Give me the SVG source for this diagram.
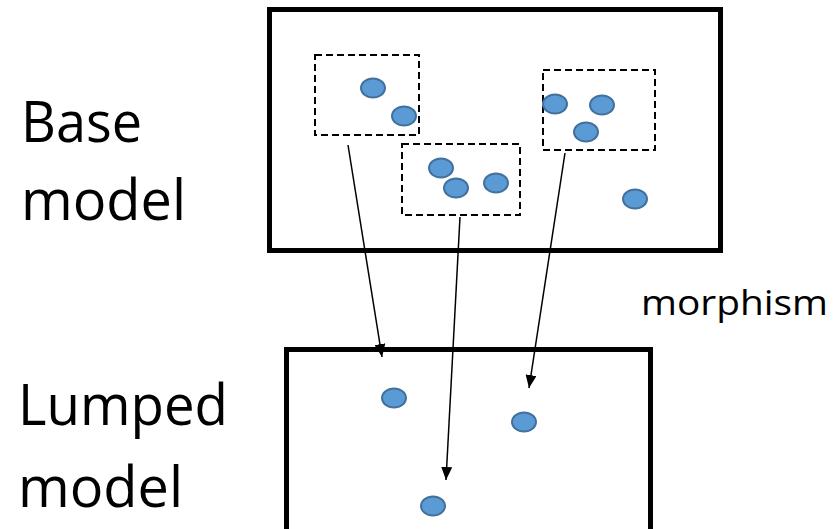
<svg xmlns="http://www.w3.org/2000/svg" width="834" height="529" viewBox="0 0 834 529">
<style>
.frame{fill:none;stroke:#000;stroke-width:5}
.group{fill:none;stroke:#000;stroke-width:2;stroke-dasharray:7 4}
.dot{fill:#5B9BD5;stroke:#41719C;stroke-width:2}
.lbl{font-family:"Open Sans","Liberation Sans",sans-serif;fill:#000}
.conn{stroke:#000;stroke-width:1.5;fill:none;marker-end:url(#ah)}
</style>
<defs>
<marker id="ah" viewBox="0 0 13 11" refX="13" refY="5.5" markerWidth="13" markerHeight="11" markerUnits="userSpaceOnUse" orient="auto">
<path d="M0,0 L13,5.5 L0,11 z" fill="#000"/>
</marker>
</defs>
<rect width="834" height="529" fill="#fff"/>
<g id="base-label">
<text class="lbl" x="21" y="142" font-size="56" textLength="121" lengthAdjust="spacingAndGlyphs">Base</text>
<text class="lbl" x="21" y="220" font-size="56" textLength="165" lengthAdjust="spacingAndGlyphs">model</text>
</g>
<g id="lumped-label">
<text class="lbl" x="18" y="425" font-size="56" textLength="210" lengthAdjust="spacingAndGlyphs">Lumped</text>
<text class="lbl" x="18" y="507" font-size="56" textLength="165" lengthAdjust="spacingAndGlyphs">model</text>
</g>
<g id="morphism-label">
<text class="lbl" x="641" y="315" font-size="35" textLength="187" lengthAdjust="spacingAndGlyphs">morphism</text>
</g>
<g id="base-model">
<rect class="frame" x="269.5" y="9.5" width="451" height="241"/>
</g>
<g id="group-1">
<rect class="group" x="315" y="55" width="104" height="80"/>
<ellipse class="dot" cx="373" cy="88" rx="12" ry="9.5"/>
<ellipse class="dot" cx="404" cy="116" rx="12" ry="9.5"/>
</g>
<g id="group-2">
<rect class="group" x="402" y="144" width="118" height="71"/>
<ellipse class="dot" cx="441" cy="168" rx="12" ry="9.5"/>
<ellipse class="dot" cx="456" cy="188" rx="12" ry="9.5"/>
<ellipse class="dot" cx="496" cy="183" rx="12" ry="9.5"/>
</g>
<g id="group-3">
<rect class="group" x="543" y="70" width="112" height="80"/>
<ellipse class="dot" cx="555" cy="104" rx="12" ry="9.5"/>
<ellipse class="dot" cx="602" cy="105" rx="12" ry="9.5"/>
<ellipse class="dot" cx="586" cy="132" rx="12" ry="9.5"/>
</g>
<g id="single-node">
<ellipse class="dot" cx="635" cy="199" rx="12" ry="9.5"/>
</g>
<g id="lumped-model">
<rect class="frame" x="286.5" y="349.5" width="364" height="200"/>
<ellipse class="dot" cx="394" cy="398" rx="12" ry="9.5"/>
<ellipse class="dot" cx="524" cy="422" rx="12" ry="9.5"/>
<ellipse class="dot" cx="433" cy="506" rx="12" ry="9.5"/>
</g>
<g id="connectors">
<line class="conn" x1="348" y1="145" x2="382" y2="357"/>
<line class="conn" x1="460" y1="217" x2="446" y2="480"/>
<line class="conn" x1="565" y1="153" x2="529" y2="388"/>
</g>
</svg>
